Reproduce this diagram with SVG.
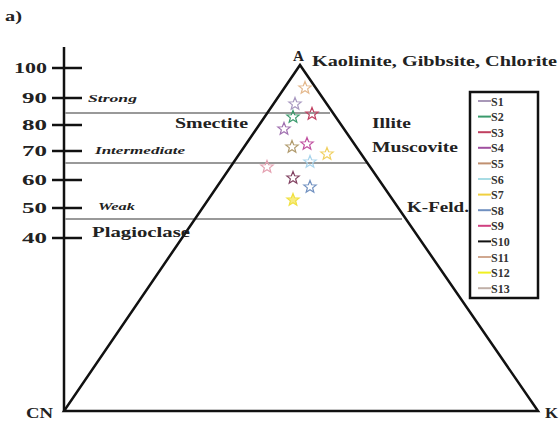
<svg xmlns="http://www.w3.org/2000/svg" width="560" height="425" viewBox="0 0 560 425">
<style>
.t{font-family:"Liberation Serif","Times New Roman",serif;font-weight:bold;fill:#222}
.n{font-size:15px}
.i{font-size:11px;font-style:italic}
.m{font-size:15px}
.lg{font-size:12px;fill:#333}
.ax{stroke:#111;stroke-width:2.5;fill:none}
.g{stroke:#999;stroke-width:1.8}
.st{fill:none;stroke-width:1.2}
.ll{stroke-width:2}
</style>
<defs>
<path id="star" d="M0,-6.5 L1.65,-2.27 L6.18,-2.01 L2.66,0.87 L3.82,5.26 L0,2.8 L-3.82,5.26 L-2.66,0.87 L-6.18,-2.01 L-1.65,-2.27 Z"/>
</defs>
<rect width="560" height="425" fill="#fff"/>
<text class="t" x="5" y="21" font-size="15" textLength="17" lengthAdjust="spacingAndGlyphs">a)</text>

<g id="axis">
<line class="ax" x1="64" y1="47" x2="64" y2="411"/>
<g stroke="#111" stroke-width="2.5">
<line x1="52" y1="68" x2="82" y2="68"/>
<line x1="52" y1="98" x2="82" y2="98"/>
<line x1="52" y1="125" x2="82" y2="125"/>
<line x1="52" y1="151" x2="82" y2="151"/>
<line x1="52" y1="180" x2="82" y2="180"/>
<line x1="52" y1="208" x2="82" y2="208"/>
<line x1="52" y1="238" x2="82" y2="238"/>
</g>
<text class="t n" x="14" y="73" textLength="33" lengthAdjust="spacingAndGlyphs">100</text>
<text class="t n" x="22" y="103" textLength="25" lengthAdjust="spacingAndGlyphs">90</text>
<text class="t n" x="22" y="130" textLength="25" lengthAdjust="spacingAndGlyphs">80</text>
<text class="t n" x="22" y="156" textLength="25" lengthAdjust="spacingAndGlyphs">70</text>
<text class="t n" x="22" y="185" textLength="25" lengthAdjust="spacingAndGlyphs">60</text>
<text class="t n" x="22" y="213" textLength="25" lengthAdjust="spacingAndGlyphs">50</text>
<text class="t n" x="22" y="243" textLength="25" lengthAdjust="spacingAndGlyphs">40</text>
</g>

<g id="zones">
<line class="g" x1="65" y1="113" x2="330" y2="113"/>
<line class="g" x1="65" y1="163" x2="367" y2="163"/>
<line class="g" x1="65" y1="219" x2="402" y2="219"/>
<text class="t i" x="88" y="102" textLength="49" lengthAdjust="spacingAndGlyphs">Strong</text>
<text class="t i" x="95" y="154" textLength="90" lengthAdjust="spacingAndGlyphs">Intermediate</text>
<text class="t i" x="98" y="210" textLength="37" lengthAdjust="spacingAndGlyphs">Weak</text>
</g>

<g id="triangle">
<polygon class="ax" points="300,65 64,411 538,411"/>
<text class="t m" x="293" y="61" textLength="11" lengthAdjust="spacingAndGlyphs">A</text>
<text class="t m" x="312" y="66" textLength="245" lengthAdjust="spacingAndGlyphs">Kaolinite, Gibbsite, Chlorite</text>
<text class="t m" x="26" y="418" textLength="27" lengthAdjust="spacingAndGlyphs">CN</text>
<text class="t m" x="545" y="418" textLength="13" lengthAdjust="spacingAndGlyphs">K</text>
<text class="t m" x="175" y="128" textLength="73" lengthAdjust="spacingAndGlyphs">Smectite</text>
<text class="t m" x="372" y="128" textLength="39" lengthAdjust="spacingAndGlyphs">Illite</text>
<text class="t m" x="372" y="152" textLength="86" lengthAdjust="spacingAndGlyphs">Muscovite</text>
<text class="t m" x="407" y="212" textLength="62" lengthAdjust="spacingAndGlyphs">K-Feld.</text>
<text class="t m" x="92" y="237" textLength="98" lengthAdjust="spacingAndGlyphs">Plagioclase</text>
</g>

<g id="samples" class="st">
<use href="#star" x="305" y="88" stroke="#e4b88c"/>
<use href="#star" x="295" y="104" stroke="#a898c0"/>
<use href="#star" x="293" y="117" stroke="#3a9a6c"/>
<use href="#star" x="312" y="114" stroke="#c04060"/>
<use href="#star" x="284" y="129" stroke="#a070b0"/>
<use href="#star" x="292" y="147" stroke="#b09a6c"/>
<use href="#star" x="307" y="144" stroke="#c050a0"/>
<use href="#star" x="327" y="154" stroke="#f0d060"/>
<use href="#star" x="310" y="162" stroke="#a8d4ec"/>
<use href="#star" x="267" y="167" stroke="#e4a0b0"/>
<use href="#star" x="293" y="178" stroke="#804060"/>
<use href="#star" x="310" y="187" stroke="#7090c0"/>
<use href="#star" x="293" y="200" stroke="#f0e040" fill="#f8ec80"/>
</g>

<g id="legend">
<rect x="470" y="92" width="68" height="206" fill="none" stroke="#111" stroke-width="2.5"/>
<g class="ll">
<line x1="478" y1="101" x2="491" y2="101" stroke="#a898b8"/>
<line x1="478" y1="116.6" x2="491" y2="116.6" stroke="#3a9a6c"/>
<line x1="478" y1="132.2" x2="491" y2="132.2" stroke="#c04060"/>
<line x1="478" y1="147.8" x2="491" y2="147.8" stroke="#a050a0"/>
<line x1="478" y1="163.4" x2="491" y2="163.4" stroke="#c09070"/>
<line x1="478" y1="179" x2="491" y2="179" stroke="#a8dce4"/>
<line x1="478" y1="194.6" x2="491" y2="194.6" stroke="#f0d040"/>
<line x1="478" y1="210.2" x2="491" y2="210.2" stroke="#7090c0"/>
<line x1="478" y1="225.8" x2="491" y2="225.8" stroke="#d04080"/>
<line x1="478" y1="241.4" x2="491" y2="241.4" stroke="#111"/>
<line x1="478" y1="257" x2="491" y2="257" stroke="#d0a890"/>
<line x1="478" y1="272.6" x2="491" y2="272.6" stroke="#f0f020"/>
<line x1="478" y1="288.2" x2="491" y2="288.2" stroke="#c0b0a8"/>
</g>
<g class="t lg">
<text x="491" y="105.5">S1</text>
<text x="491" y="121.1">S2</text>
<text x="491" y="136.7">S3</text>
<text x="491" y="152.3">S4</text>
<text x="491" y="167.9">S5</text>
<text x="491" y="183.5">S6</text>
<text x="491" y="199.1">S7</text>
<text x="491" y="214.7">S8</text>
<text x="491" y="230.3">S9</text>
<text x="491" y="245.9">S10</text>
<text x="491" y="261.5">S11</text>
<text x="491" y="277.1">S12</text>
<text x="491" y="292.7">S13</text>
</g>
</g>
</svg>
